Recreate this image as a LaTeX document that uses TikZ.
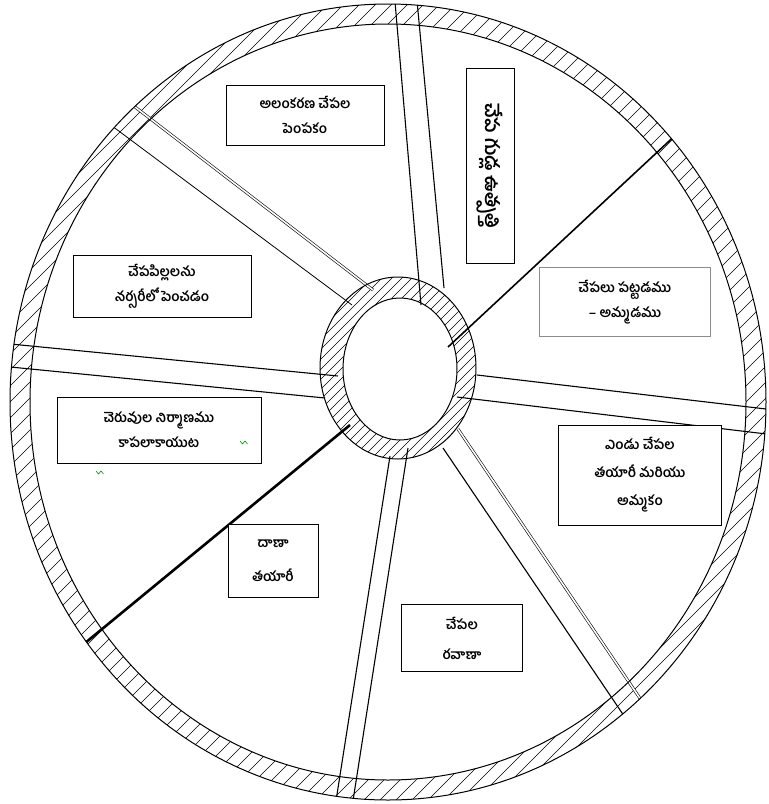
\documentclass[tikz,border=0pt]{standalone}
\usepackage{fontspec}
\newfontfamily\te[Script=Telugu]{Hind Guntur}
\begin{document}
\begin{tikzpicture}[x=1pt,y=-1pt,
  box/.style={draw=black, line width=1pt, fill=white, align=center, inner sep=0pt,
              font=\te\bfseries\fontsize{13.5}{25}\selectfont},
  rimline/.style={line width=1pt},
  hatch/.style={line width=0.5pt},
  spokeedge/.style={line width=1.1pt},
  dbledge/.style={line width=0.6pt, double=white, double distance=1.6pt},
  thickedge/.style={line width=1.6pt},
  squiggle/.style={draw=green!60!black, line width=0.6pt}]
\useasboundingbox (0,0) rectangle (769,804);

% outer hatched ring
\begin{scope}
  \clip (388,402) ellipse [x radius=378pt, y radius=398pt];
  \foreach \k in {-840,-824,...,790} \draw[hatch] (\k,820) -- ++(840,-840);
\end{scope}
\fill[white] (388,402) ellipse [x radius=358pt, y radius=378pt];

% hub hatched ring
\begin{scope}
  \clip (398,368) ellipse [x radius=78pt, y radius=91pt];
  \fill[white] (398,368) ellipse [x radius=78pt, y radius=91pt];
  \foreach \k in {-200,-190,...,600} \draw[hatch] (\k,480) -- ++(220,-220);
\end{scope}
\fill[white] (400,369) ellipse [x radius=57pt, y radius=71pt];

% spokes
\begin{scope}
  \clip (388,402) ellipse [x radius=378pt, y radius=398pt];
  % top
  \coordinate (s1a) at (421,305); \coordinate (s1b) at (394,-10);
  \coordinate (s1c) at (444,288); \coordinate (s1d) at (416,-10);
  \draw[spokeedge] (s1a) -- (s1b);
  \draw[spokeedge] (s1c) -- (s1d);
  % upper right
  \coordinate (s2a) at (448,347); \coordinate (s2b) at (710,103);
  \draw[thickedge] (s2a) -- (s2b);
  % right
  \coordinate (s3a) at (477,375); \coordinate (s3b) at (800,413);
  \coordinate (s3c) at (457,397); \coordinate (s3d) at (800,438);
  \draw[spokeedge] (s3a) -- (s3b);
  \draw[spokeedge] (s3c) -- (s3d);
  % lower right
  \coordinate (s4a) at (458,429); \coordinate (s4b) at (662,731);
  \coordinate (s4c) at (443,448); \coordinate (s4d) at (643,744);
  \draw[dbledge] (s4a) -- (s4b);
  \draw[spokeedge] (s4c) -- (s4d);
  % bottom
  \coordinate (s5a) at (408,448); \coordinate (s5b) at (350,820);
  \coordinate (s5c) at (390,456); \coordinate (s5d) at (333,820);
  \draw[spokeedge] (s5a) -- (s5b);
  \draw[spokeedge] (s5c) -- (s5d);
  % lower left
  \coordinate (s6a) at (350,425); \coordinate (s6b) at (62,662);
  \draw[thickedge, line width=2.6pt] (s6a) -- (s6b);
  % left
  \coordinate (s7a) at (338,376); \coordinate (s7b) at (-10,342);
  \coordinate (s7c) at (325,398); \coordinate (s7d) at (-10,365);
  \draw[spokeedge] (s7a) -- (s7b);
  \draw[spokeedge] (s7c) -- (s7d);
  % upper left
  \coordinate (s8a) at (373,290); \coordinate (s8b) at (100,80);
  \coordinate (s8c) at (352,305); \coordinate (s8d) at (100,117);
  \draw[dbledge] (s8a) -- (s8b);
  \draw[spokeedge, line width=0.8pt] (s8c) -- (s8d);
\end{scope}

% ring outlines
\draw[rimline] (388,402) ellipse [x radius=378pt, y radius=398pt];
\draw[rimline] (388,402) ellipse [x radius=358pt, y radius=378pt];
\draw[rimline] (398,368) ellipse [x radius=78pt, y radius=91pt];
\draw[rimline] (400,369) ellipse [x radius=57pt, y radius=71pt];

% text boxes
\node[box, minimum width=158pt, minimum height=60pt] (b1) at (305,115)
  {అలంకరణ చేపల\\పెంపకం};
\node[box, rotate=-90, minimum width=195pt, minimum height=48pt,
      font=\te\bfseries\fontsize{19}{25}\selectfont] (b2) at (490,166)
  {చేప గుడ్ల ఉత్పత్తి};
\node[box, minimum width=178pt, minimum height=62pt] (b3) at (162,286)
  {చేపపిల్లలను\\నర్సరీలో పెంచడం};
\node[box, draw=black!45, minimum width=171pt, minimum height=69pt] (b4) at (625,302)
  {చేపలు పట్టడము\\– అమ్మడము};
\node[box, minimum width=204pt, minimum height=66pt] (b5) at (159,430)
  {చెరువుల నిర్మాణము\\కాపలాకాయుట};
\node[box, minimum width=163pt, minimum height=100pt,
      font=\te\bfseries\fontsize{13.5}{28}\selectfont] (b6) at (640,475)
  {ఎండు చేపల\\తయారీ మరియు\\అమ్మకం};
\node[box, minimum width=90pt, minimum height=73pt,
      font=\te\bfseries\fontsize{13.5}{34}\selectfont] (b7) at (273,561)
  {దాణా\\తయారీ};
\node[box, minimum width=121pt, minimum height=67pt,
      font=\te\bfseries\fontsize{13.5}{30}\selectfont] (b8) at (462,638)
  {చేపల\\రవాణా};

% spell-check marks
\draw[squiggle] (240,441) -- (242.5,444) -- (245,441) -- (247.5,444);
\draw[squiggle] (96,471) -- (98.5,474) -- (101,471) -- (103.5,474);
\end{tikzpicture}
\end{document}
